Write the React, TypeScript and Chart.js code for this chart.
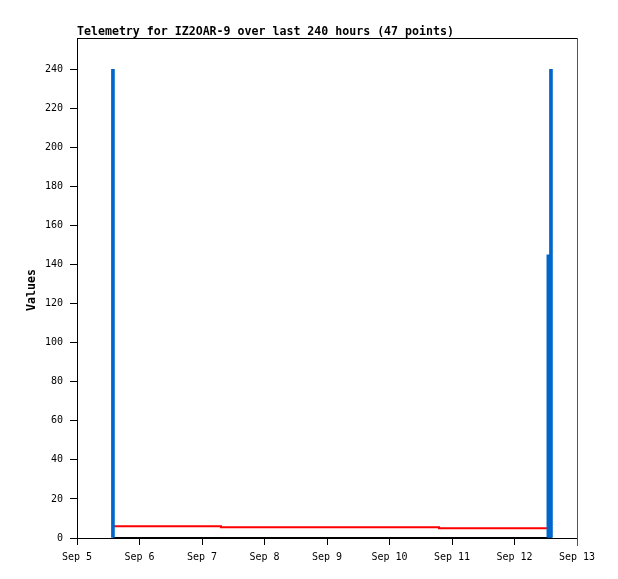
import React, { useEffect, useRef } from 'react';
import { Chart, registerables } from 'chart.js';

Chart.register(...registerables);

const TITLE = 'Telemetry for IZ2OAR-9 over last 240 hours (47 points)';
const Y_LABEL = 'Values';

// x axis: hours since Sep 5 00:00
const dayLabels = ['Sep 5', 'Sep 6', 'Sep 7', 'Sep 8', 'Sep 9', 'Sep 10', 'Sep 11', 'Sep 12', 'Sep 13'];
const xTicks = [0, 24, 48, 72, 96, 120, 144, 168, 192];
const yTicks = [0, 20, 40, 60, 80, 100, 120, 140, 160, 180, 200, 220, 240];

// blue impulses
const pulseHours = [13.8, 181.0, 182.0];
const pulseValues = [240, 145, 240];

// red stepped line
const stepHours = [13.8, 55.3, 139.0, 181.0];
const stepValues = [6.0, 5.5, 5.0, 5.0];

// black baseline series
const baseHours = [13.8, 182.3];
const baseValues = [0, 0];

const MONO = '"DejaVu Sans Mono", "Liberation Mono", monospace';

const framePlugin = {
  id: 'frame',
  afterDraw(chart: any) {
    const { ctx, chartArea: a } = chart;
    ctx.save();
    ctx.lineWidth = 1;
    ctx.strokeStyle = '#000';
    ctx.beginPath();
    ctx.moveTo(a.left, a.top + 0.5);
    ctx.lineTo(a.right + 1, a.top + 0.5);
    ctx.stroke();
    ctx.strokeStyle = '#555';
    ctx.beginPath();
    ctx.moveTo(a.right + 0.5, a.top);
    ctx.lineTo(a.right + 0.5, a.bottom + 8);
    ctx.stroke();

    ctx.fillStyle = '#000';
    ctx.font = `bold 11.6px ${MONO}`;
    ctx.textAlign = 'left';
    ctx.textBaseline = 'alphabetic';
    ctx.fillText(TITLE, a.left, a.top - 3);

    ctx.translate(32, (a.top + a.bottom) / 2 + 2);
    ctx.rotate(-Math.PI / 2);
    ctx.textAlign = 'center';
    ctx.textBaseline = 'middle';
    ctx.fillText(Y_LABEL, 0, 0);
    ctx.restore();
  },
};

export default function App() {
  const ref = useRef<HTMLCanvasElement>(null);

  useEffect(() => {
    if (!ref.current) return;
    const chart = new Chart(ref.current, {
      type: 'bar',
      data: {
        datasets: [
          {
            type: 'bar',
            label: 'pulses',
            data: pulseHours.map((h, i) => ({ x: h, y: pulseValues[i] })),
            backgroundColor: '#0066CC',
            borderWidth: 0,
            barThickness: 3,
          } as any,
          {
            type: 'line',
            label: 'level',
            data: stepHours.map((h, i) => ({ x: h, y: stepValues[i] })),
            borderColor: '#FF0000',
            borderWidth: 2,
            pointRadius: 0,
            stepped: true,
            fill: false,
          },
          {
            type: 'line',
            label: 'base',
            data: baseHours.map((h, i) => ({ x: h, y: baseValues[i] })),
            borderColor: '#000000',
            borderWidth: 2,
            pointRadius: 0,
            fill: false,
          },
        ],
      },
      options: {
        responsive: false,
        animation: false,
        events: [],
        layout: { padding: { top: 38, right: 41, left: 0, bottom: 0 } },
        plugins: {
          legend: { display: false },
          tooltip: { enabled: false },
          title: { display: false },
        },
        scales: {
          x: {
            type: 'linear',
            min: 0,
            max: 192,
            offset: false,
            afterBuildTicks: (s: any) => {
              s.ticks = xTicks.map((v) => ({ value: v }));
            },
            afterFit: (s: any) => {
              s.height = 41;
            },
            ticks: {
              autoSkip: false,
              maxRotation: 0,
              padding: 6,
              color: '#000',
              font: { family: MONO, size: 10 },
              callback: (_v: any, i: number) => dayLabels[i],
            },
            grid: { drawOnChartArea: false, drawTicks: true, tickLength: 7, color: '#000', offset: false },
            border: { display: true, color: '#000', width: 1 },
          },
          y: {
            type: 'linear',
            min: 0,
            max: 256,
            afterBuildTicks: (s: any) => {
              s.ticks = yTicks.map((v) => ({ value: v }));
            },
            afterFit: (s: any) => {
              s.width = 77;
            },
            ticks: {
              padding: 7,
              color: '#000',
              font: { family: MONO, size: 10 },
              callback: (v: any) => String(v),
            },
            grid: { drawOnChartArea: false, drawTicks: true, tickLength: 7, color: '#000' },
            border: { display: true, color: '#000', width: 1 },
          },
        },
      } as any,
      plugins: [framePlugin],
    });
    return () => chart.destroy();
  }, []);

  return (
    <div style={{ position: 'fixed', left: 0, top: 0, width: 618, height: 579, background: '#fff' }}>
      <canvas ref={ref} width={618} height={579} style={{ display: 'block' }} />
    </div>
  );
}
